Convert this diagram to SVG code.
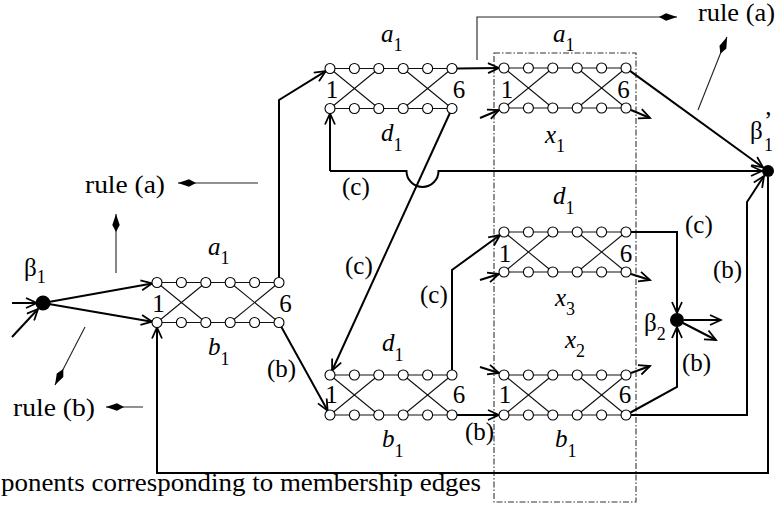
<svg xmlns="http://www.w3.org/2000/svg" xmlns:xlink="http://www.w3.org/1999/xlink" width="778" height="520" viewBox="0 0 778 520">
<style>
text{font-family:'Liberation Serif','DejaVu Serif',serif}
.t{font-size:25px;fill:#000}
.it{font-style:italic}
.sub{font-size:18px}
.num{font-size:25px;text-anchor:middle;fill:#000}
.c{fill:none;stroke:#000;stroke-width:2;stroke-linejoin:miter}
.r{fill:none;stroke:#222;stroke-width:1.1}
.gl{fill:none;stroke:#111;stroke-width:1.1}
.nd{fill:#fff;stroke:#000;stroke-width:1.1}
.box{fill:none;stroke:#333;stroke-width:1.1;stroke-dasharray:6,2,1.5,2}
</style>
<defs>
<marker id="arr" viewBox="-1 -1 14 12" refX="11" refY="5" markerWidth="14" markerHeight="12" orient="auto" markerUnits="userSpaceOnUse">
<path d="M0,0 L11,5 L0,10" fill="none" stroke="#000" stroke-width="1.8"/>
</marker>
<marker id="kite" viewBox="0 0 18 8" refX="18" refY="4" markerWidth="18" markerHeight="8" orient="auto" markerUnits="userSpaceOnUse">
<path d="M0,4 L7,0.3 L18,4 L7,7.7 Z" fill="#000"/>
</marker>
<g id="gad">
<path class="gl" d="M0,0 H122 M0,40 H122 M0,0 L48.8,40 M0,40 L48.8,0 M73.2,0 L122,40 M73.2,40 L122,0"/>
<circle class="nd" cx="0" cy="0" r="5"/><circle class="nd" cx="24.4" cy="0" r="5"/><circle class="nd" cx="48.8" cy="0" r="5"/><circle class="nd" cx="73.2" cy="0" r="5"/><circle class="nd" cx="97.6" cy="0" r="5"/><circle class="nd" cx="122" cy="0" r="5"/>
<circle class="nd" cx="0" cy="40" r="5"/><circle class="nd" cx="24.4" cy="40" r="5"/><circle class="nd" cx="48.8" cy="40" r="5"/><circle class="nd" cx="73.2" cy="40" r="5"/><circle class="nd" cx="97.6" cy="40" r="5"/><circle class="nd" cx="122" cy="40" r="5"/>
</g>
</defs>

<rect id="membership-box" class="box" x="494" y="53" width="142" height="449"/>

<g id="connectors">
<path class="c" d="M12,303 L37,303" marker-end="url(#arr)"/>
<path class="c" d="M12,337 L38,309" marker-end="url(#arr)"/>
<path class="c" d="M43,303 L152.1,283.4" marker-end="url(#arr)"/>
<path class="c" d="M43,303 L152.1,321.7" marker-end="url(#arr)"/>
<path class="c" d="M279,277.5 V100 L325.7,71.1" marker-end="url(#arr)"/>
<path class="c" d="M281.4,326.9 L327.6,410.6" marker-end="url(#arr)"/>
<path class="c" d="M768,177 V473 H157 V327.5" marker-end="url(#arr)"/>
<path class="c" d="M330,171 V113.5" marker-end="url(#arr)"/>
<path class="c" d="M330,171 H406.5 A16,16 0 0 0 438.5,171 H762" marker-end="url(#arr)"/>
<path class="c" d="M449.9,113 L332.1,370.5" marker-end="url(#arr)"/>
<path class="c" d="M457,68.5 L499,68" marker-end="url(#arr)"/>
<path class="c" d="M630,70.9 L763.1,167.5" marker-end="url(#arr)"/>
<path class="c" d="M480,118 L499,110" marker-end="url(#arr)"/>
<path class="c" d="M631,110 L650,118" marker-end="url(#arr)"/>
<path class="c" d="M452,370 V270 L500,235" marker-end="url(#arr)"/>
<path class="c" d="M480,280 L499,274" marker-end="url(#arr)"/>
<path class="c" d="M631,274 L650,280" marker-end="url(#arr)"/>
<path class="c" d="M631,232 H677 V313" marker-end="url(#arr)"/>
<path class="c" d="M457,415 H499" marker-end="url(#arr)"/>
<path class="c" d="M480,367 L499,373" marker-end="url(#arr)"/>
<path class="c" d="M631,373 L650,366" marker-end="url(#arr)"/>
<path class="c" d="M630.5,412.5 L677,387 V327" marker-end="url(#arr)"/>
<path class="c" d="M631,415 H747 V202 L764,176" marker-end="url(#arr)"/>
<path class="c" d="M684,320 H721" marker-end="url(#arr)"/>
<path class="c" d="M683,323 L716,340" marker-end="url(#arr)"/>
<path class="r" d="M477,60 V17 H677" marker-end="url(#kite)"/>
<path class="r" d="M698,110 L727,37" marker-end="url(#kite)"/>
<path class="r" d="M258,183 H178" marker-end="url(#kite)"/>
<path class="r" d="M116,273 V214" marker-end="url(#kite)"/>
<path class="r" d="M143,407 H106" marker-end="url(#kite)"/>
<path class="r" d="M85,327 L55,385" marker-end="url(#kite)"/>
</g>

<g id="g1">
<use xlink:href="#gad" transform="translate(157,282.5)"/>
<text class="t" x="208" y="255"><tspan class="it">a</tspan><tspan class="sub" dy="9">1</tspan></text>
<text class="t" x="208" y="355"><tspan class="it">b</tspan><tspan class="sub" dy="10">1</tspan></text>
<text class="num" x="158.5" y="312">1</text><text class="num" x="285.5" y="312">6</text>
</g>
<g id="g2">
<use xlink:href="#gad" transform="translate(330,68.5)"/>
<text class="t" x="381" y="42"><tspan class="it">a</tspan><tspan class="sub" dy="9">1</tspan></text>
<text class="t" x="381" y="141"><tspan class="it">d</tspan><tspan class="sub" dy="10">1</tspan></text>
<text class="num" x="332" y="98">1</text><text class="num" x="459" y="98">6</text>
</g>
<g id="g3">
<use xlink:href="#gad" transform="translate(504,68)"/>
<text class="t" x="553" y="42"><tspan class="it">a</tspan><tspan class="sub" dy="9">1</tspan></text>
<text class="t" x="545" y="143"><tspan class="it">x</tspan><tspan class="sub" dy="9">1</tspan></text>
<text class="num" x="507" y="98">1</text><text class="num" x="623.5" y="98">6</text>
</g>
<g id="g4">
<use xlink:href="#gad" transform="translate(504,232)"/>
<text class="t" x="553" y="204"><tspan class="it">d</tspan><tspan class="sub" dy="10">1</tspan></text>
<text class="t" x="555" y="306"><tspan class="it">x</tspan><tspan class="sub" dy="9">3</tspan></text>
<text class="num" x="505" y="262">1</text><text class="num" x="626" y="262">6</text>
</g>
<g id="g5">
<use xlink:href="#gad" transform="translate(330,375)"/>
<text class="t" x="382" y="351"><tspan class="it">d</tspan><tspan class="sub" dy="10">1</tspan></text>
<text class="t" x="382" y="447"><tspan class="it">b</tspan><tspan class="sub" dy="10">1</tspan></text>
<text class="num" x="331.5" y="403">1</text><text class="num" x="459" y="403">6</text>
</g>
<g id="g6">
<use xlink:href="#gad" transform="translate(504,375)"/>
<text class="t" x="565" y="348"><tspan class="it">x</tspan><tspan class="sub" dy="9">2</tspan></text>
<text class="t" x="555" y="447"><tspan class="it">b</tspan><tspan class="sub" dy="10">1</tspan></text>
<text class="num" x="505" y="403">1</text><text class="num" x="625" y="403">6</text>
</g>

<g id="beta1">
<circle cx="43" cy="303" r="7.5" fill="#000"/>
<text class="t" x="24" y="276" font-size="23">β<tspan class="sub" dy="7">1</tspan></text>
</g>
<g id="beta1p">
<circle cx="768" cy="171" r="6" fill="#000"/>
<text class="t" x="750" y="139" font-size="23">β</text>
<text class="t" x="764" y="129" font-size="20">’</text>
<text class="t sub" x="764" y="151">1</text>
</g>
<g id="beta2">
<circle cx="677" cy="320" r="7" fill="#000"/>
<text class="t" x="644" y="331" font-size="23">β<tspan class="sub" dy="9">2</tspan></text>
</g>

<g id="labels">
<text class="t" x="698" y="21" textLength="77" lengthAdjust="spacingAndGlyphs">rule (a)</text>
<text class="t" x="85" y="193" textLength="80" lengthAdjust="spacingAndGlyphs">rule (a)</text>
<text class="t" x="13" y="416" textLength="82" lengthAdjust="spacingAndGlyphs">rule (b)</text>
<text class="t" x="342" y="195">(c)</text>
<text class="t" x="345" y="274">(c)</text>
<text class="t" x="420" y="303">(c)</text>
<text class="t" x="685" y="233">(c)</text>
<text class="t" x="267" y="377">(b)</text>
<text class="t" x="465" y="440">(b)</text>
<text class="t" x="682" y="371">(b)</text>
<text class="t" x="713" y="278">(b)</text>
<text class="t" x="1" y="491" textLength="480" lengthAdjust="spacingAndGlyphs">ponents corresponding to membership edges</text>
</g>
</svg>
